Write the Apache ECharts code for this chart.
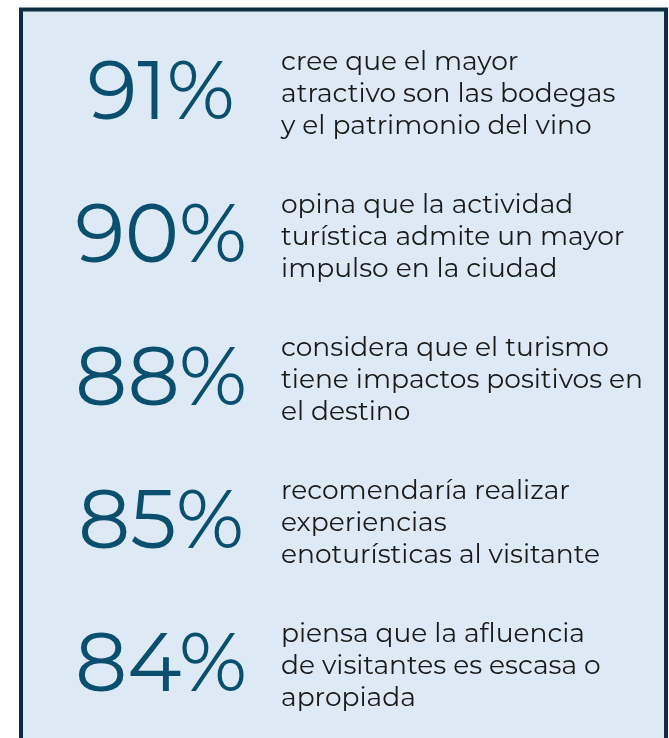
<!DOCTYPE html>
<html>
<head>
<meta charset="utf-8">
<script src="https://cdn.jsdelivr.net/npm/echarts@6/dist/echarts.min.js"></script>
<style>
  html, body { margin: 0; padding: 0; background: #fff; }
  #chart { width: 669px; height: 738px; }
</style>
</head>
<body>
<div id="chart"></div>
<script>
const items = ['bodegas', 'impulso', 'impactos', 'recomienda', 'afluencia']
const percents = [91, 90, 88, 85, 84]
const descriptions = [
  'cree que el mayor\natractivo son las bodegas\ny el patrimonio del vino',
  'opina que la actividad\nturística admite un mayor\nimpulso en la ciudad',
  'considera que el turismo\ntiene impactos positivos en\nel destino',
  'recomendaría realizar\nexperiencias\nenoturísticas al visitante',
  'piensa que la afluencia\nde visitantes es escasa o\napropiada'
]

const NUM_COLOR = '#0a4f6d'
const TEXT_COLOR = '#1a1a1a'

let chart = echarts.init(document.getElementById('chart'), null, { renderer: 'canvas' })

const option = {
  backgroundColor: '#ffffff',
  animation: false,
  // the light blue card behind everything
  graphic: [{
    type: 'rect',
    z: -10,
    shape: { x: 21, y: 9.5, width: 645, height: 760 },
    style: { fill: '#ddeaf5', stroke: '#0f2d40', lineWidth: 4 }
  }],
  grid: { left: 161, right: 388, top: 23, bottom: 0 },
  xAxis: { type: 'value', min: 0, max: 1, show: false },
  yAxis: { type: 'category', data: items, inverse: true, show: false },
  series: [
    {
      type: 'scatter',
      symbolSize: 0,
      silent: true,
      itemStyle: { opacity: 1 },
      data: percents.map((p, i) => [0, items[i]]),
      label: {
        show: true,
        position: 'inside',
        align: 'center',
        verticalAlign: 'middle',
        fontFamily: 'Montserrat, Lato, sans-serif',
        fontWeight: 400,
        fontSize: 82,
        color: NUM_COLOR,
        formatter: p => percents[p.dataIndex] + '%'
      }
    },
    {
      type: 'scatter',
      symbolSize: 0,
      silent: true,
      itemStyle: { opacity: 1 },
      data: descriptions.map((d, i) => [1, items[i]]),
      label: {
        show: true,
        position: 'inside',
        align: 'left',
        verticalAlign: 'middle',
        fontFamily: 'Montserrat, "DejaVu Sans", sans-serif',
        fontSize: 26.5,
        lineHeight: 32,
        color: TEXT_COLOR,
        formatter: p => descriptions[p.dataIndex]
      }
    }
  ]
}

chart.setOption(option)
</script>
</body>
</html>
